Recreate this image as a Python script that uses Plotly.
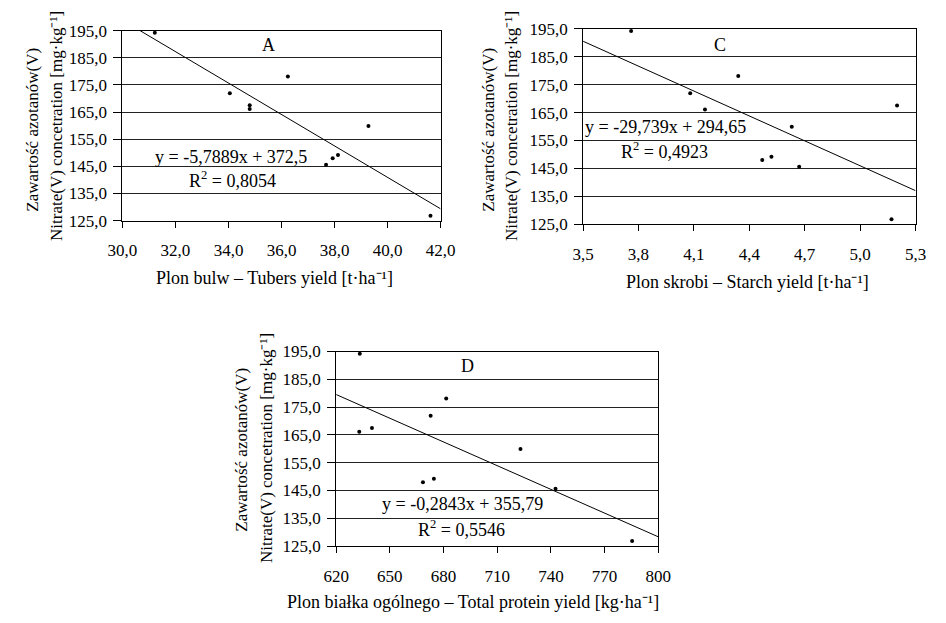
import plotly.graph_objects as go

# ---------------- data ----------------
nitrate = [194.2, 171.9, 167.5, 166.1, 178.1, 159.9, 148.0, 149.2, 145.6, 126.8]
tubers_yield = [31.22, 34.05, 34.80, 34.80, 36.24, 39.28, 37.93, 38.13, 37.68, 41.62]
starch_yield = [3.76, 4.08, 5.20, 4.16, 4.34, 4.63, 4.47, 4.52, 4.67, 5.17]
protein_yield = [633.2, 672.8, 640.0, 632.9, 681.5, 723.0, 668.5, 674.6, 742.6, 785.4]

trend_A = (-5.7889, 372.5)
trend_C = (-29.739, 294.65)
trend_D = (-0.2843, 355.79)

range_A = [30, 42]
range_C = [3.5, 5.3]
range_D = [620, 800]
range_y = [125, 195]

ticks_A = [30, 32, 34, 36, 38, 40, 42]
ticks_C = [3.5, 3.8, 4.1, 4.4, 4.7, 5.0, 5.3]
ticks_D = [620, 650, 680, 710, 740, 770, 800]
ticks_y = [125, 135, 145, 155, 165, 175, 185, 195]

eq_A = "y = -5,7889x + 372,5"
r2_A = "R<sup>2</sup> = 0,8054"
eq_C = "y = -29,739x + 294,65"
r2_C = "R<sup>2</sup> = 0,4923"
eq_D = "y = -0,2843x + 355,79"
r2_D = "R<sup>2</sup> = 0,5546"

xtitle_A = "Plon bulw – Tubers yield [t·ha⁻¹]"
xtitle_C = "Plon skrobi – Starch yield [t·ha⁻¹]"
xtitle_D = "Plon białka ogólnego – Total protein yield [kg·ha⁻¹]"
ytitle_1 = "Zawartość azotanów(V)"
ytitle_2 = "Nitrate(V) concetration [mg·kg⁻¹]"

# ---------------- figure ----------------
W, H = 946, 623
FONT = "Liberation Serif"
FS_TICK = 17
FS = 18
FS_EQ = 18

def px_x(p):
    return p / W

def px_y(p):
    return 1 - p / H

fig = go.Figure()

panels = [
    ("x", "y", tubers_yield, trend_A, range_A),
    ("x2", "y2", starch_yield, trend_C, range_C),
    ("x3", "y3", protein_yield, trend_D, range_D),
]
for xa, ya, xs, (m, b), rng in panels:
    fig.add_trace(go.Scatter(
        x=xs, y=nitrate, mode="markers", xaxis=xa, yaxis=ya,
        marker=dict(color="black", size=4), showlegend=False,
        cliponaxis=False, hoverinfo="x+y"))
    fig.add_trace(go.Scatter(
        x=rng, y=[m * rng[0] + b, m * rng[1] + b], mode="lines",
        xaxis=xa, yaxis=ya, line=dict(color="black", width=1),
        showlegend=False, hoverinfo="skip"))

common_x = dict(showline=True, linecolor="black", linewidth=1, mirror=True,
                ticks="outside", ticklen=6, tickcolor="black", showgrid=False,
                zeroline=False, tickfont=dict(family=FONT, size=FS_TICK, color="black"),
                ticklabelstandoff=8)
common_y = dict(showline=True, linecolor="black", linewidth=1, mirror=True,
                ticks="outside", ticklen=8, tickcolor="black", showgrid=True,
                gridcolor="#222222", gridwidth=1, zeroline=False,
                range=range_y, tickvals=ticks_y, tickformat=".1f",
                tickfont=dict(family=FONT, size=FS_TICK, color="black"),
                ticklabelstandoff=3)

fig.update_layout(
    width=W, height=H, margin=dict(l=0, r=0, t=0, b=0),
    paper_bgcolor="white", plot_bgcolor="white",
    separators=", ",
    font=dict(family=FONT, size=FS, color="black"),
    xaxis=dict(common_x, domain=[px_x(111), px_x(439.5)], range=range_A,
               tickvals=ticks_A, tickformat=".1f", anchor="y"),
    yaxis=dict(common_y, domain=[px_y(218.3), px_y(22.3)], anchor="x"),
    xaxis2=dict(common_x, domain=[px_x(586.7), px_x(930)], range=range_C,
                tickvals=ticks_C, tickformat=".1f", anchor="y2"),
    yaxis2=dict(common_y, domain=[px_y(222), px_y(20.5)], anchor="x2"),
    xaxis3=dict(common_x, domain=[px_x(331.7), px_x(664.3)], range=range_D,
                tickvals=ticks_D, tickformat="d", anchor="y3"),
    yaxis3=dict(common_y, domain=[px_y(554), px_y(353.3)], anchor="x3"),
)

def ann(text, x, y, angle=0, size=FS):
    fig.add_annotation(text=text, x=px_x(x), y=px_y(y), xref="paper", yref="paper",
                       xanchor="center", yanchor="middle", showarrow=False,
                       textangle=angle, font=dict(family=FONT, size=size, color="black"))

# panel letters
ann("A", 262, 37)
ann("C", 728, 37)
ann("D", 467, 368)
# equations
ann(eq_A, 223, 153, size=FS_EQ)
ann(r2_A, 225, 176, size=FS_EQ)
ann(eq_C, 672, 122, size=FS_EQ)
ann(r2_C, 671, 146, size=FS_EQ)
ann(eq_D, 462, 511, size=FS_EQ)
ann(r2_D, 461, 536, size=FS_EQ)
# x titles
ann(xtitle_A, 268, 277)
ann(xtitle_C, 756, 282)
ann(xtitle_D, 473, 612)
# y titles
ann(ytitle_1, 18, 124, -90, 17)
ann(ytitle_2, 43, 121, -90, 17)
ann(ytitle_1, 489, 124, -90, 17)
ann(ytitle_2, 513, 121, -90, 17)
ann(ytitle_1, 234, 455, -90, 17)
ann(ytitle_2, 259, 453, -90, 17)

# remove the default page margin so that the figure sits at the window's corner
fig.write_html("out.html", config={"displayModeBar": False},
               post_script="document.body.style.margin='0';")
